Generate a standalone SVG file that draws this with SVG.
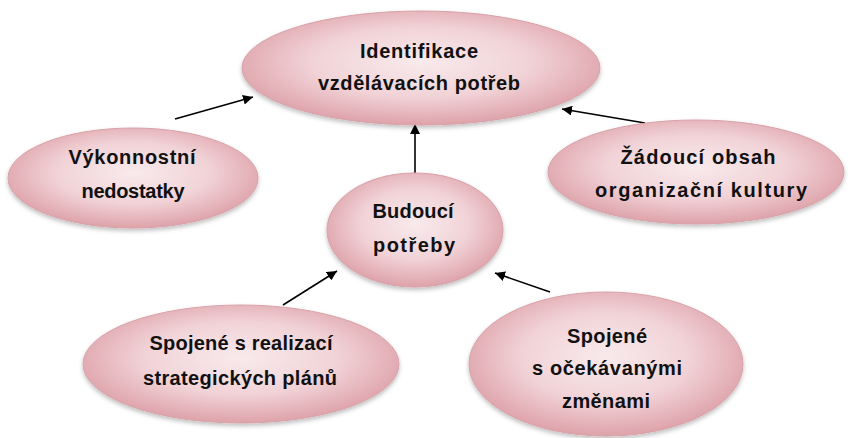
<svg xmlns="http://www.w3.org/2000/svg" width="848" height="438" viewBox="0 0 848 438">
  <defs>
    <radialGradient id="pink" cx="0.5" cy="0.45" r="0.55">
      <stop offset="0" stop-color="#f8eaec"/>
      <stop offset="0.55" stop-color="#f1d3d7"/>
      <stop offset="1" stop-color="#dea2aa"/>
    </radialGradient>
    <filter id="sh" x="-10%" y="-10%" width="120%" height="130%">
      <feDropShadow dx="0" dy="2.5" stdDeviation="2" flood-color="#000" flood-opacity="0.25"/>
    </filter>
    <marker id="ah" viewBox="0 0 10 10" refX="10" refY="5" markerWidth="10" markerHeight="10" markerUnits="userSpaceOnUse" orient="auto">
      <path d="M0,0 L10,5 L0,10 Z" fill="#000"/>
    </marker>
    <style>
      .node ellipse { fill: url(#pink); stroke: #d8a1a8; stroke-width: 1; filter: url(#sh); }
      .node text { font-family: "Liberation Sans", Arial, sans-serif; font-weight: bold; font-size: 20px; fill: #111; text-anchor: middle; }
      .conn line { stroke: #000; stroke-width: 1.6; marker-end: url(#ah); }
    </style>
  </defs>
  <rect width="848" height="438" fill="#fff"/>

  <g id="connectors" class="conn">
    <line x1="175" y1="119" x2="253" y2="97"/>
    <line x1="645" y1="123" x2="562" y2="109"/>
    <line x1="415" y1="173" x2="415" y2="124"/>
    <line x1="283" y1="305" x2="337" y2="271"/>
    <line x1="550" y1="292" x2="495" y2="273"/>
  </g>

  <g id="identifikace" class="node">
    <ellipse cx="421" cy="68" rx="179" ry="57"/>
    <text x="419" y="58" textLength="118" lengthAdjust="spacing">Identifikace</text>
    <text x="419" y="90" textLength="202" lengthAdjust="spacing">vzdělávacích potřeb</text>
  </g>

  <g id="vykonnostni" class="node">
    <ellipse cx="133" cy="178" rx="125" ry="50"/>
    <text x="132" y="164" textLength="127" lengthAdjust="spacing">Výkonnostní</text>
    <text x="133" y="198" textLength="103" lengthAdjust="spacing">nedostatky</text>
  </g>

  <g id="zadouci" class="node">
    <ellipse cx="696" cy="172" rx="148" ry="52"/>
    <text x="698" y="164" textLength="155" lengthAdjust="spacing">Žádoucí obsah</text>
    <text x="701" y="197" textLength="212" lengthAdjust="spacing">organizační kultury</text>
  </g>

  <g id="budouci" class="node">
    <ellipse cx="415" cy="230" rx="88" ry="57"/>
    <text x="413" y="218" textLength="81" lengthAdjust="spacing">Budoucí</text>
    <text x="414" y="252" textLength="82" lengthAdjust="spacing">potřeby</text>
  </g>

  <g id="strategicke" class="node">
    <ellipse cx="241" cy="364" rx="158" ry="59"/>
    <text x="241" y="350" textLength="183" lengthAdjust="spacing">Spojené s realizací</text>
    <text x="240" y="385" textLength="194" lengthAdjust="spacing">strategických plánů</text>
  </g>

  <g id="zmeny" class="node">
    <ellipse cx="606" cy="364" rx="137" ry="72"/>
    <text x="607" y="343" textLength="80" lengthAdjust="spacing">Spojené</text>
    <text x="607" y="375" textLength="150" lengthAdjust="spacing">s očekávanými</text>
    <text x="606" y="408" textLength="88" lengthAdjust="spacing">změnami</text>
  </g>
</svg>
